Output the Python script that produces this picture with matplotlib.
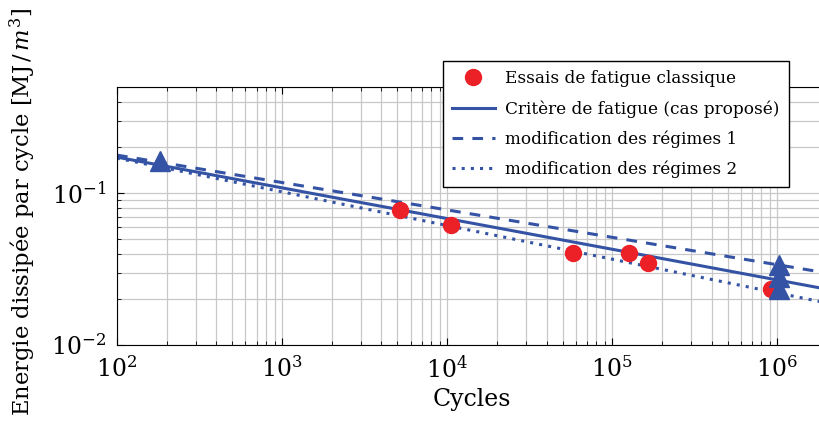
import numpy as np
import matplotlib
matplotlib.use('Agg')
import matplotlib.pyplot as plt

# essais de fatigue classique (cycles, énergie MJ/m3)
essais_N = [5.2e3, 1.06e4, 5.8e4, 1.27e5, 1.65e5, 9.1e5]
essais_E = [0.0773, 0.0617, 0.0403, 0.0403, 0.0347, 0.0234]

# points triangulaires (régimes)
tri_N = [182, 1.02e6, 1.02e6, 1.02e6]
tri_E = [0.162, 0.0335, 0.028, 0.0233]

# droites de fatigue (extrémités)
ligne_N = [1e2, 2e6]
critere_E = [0.1726, 0.0233]
regime1_E = [0.178, 0.0298]
regime2_E = [0.170, 0.0189]

bleu = '#3453a4'
rouge = '#ec2027'

plt.rcParams['font.family'] = 'DejaVu Serif'
plt.rcParams['mathtext.fontset'] = 'dejavuserif'

fig = plt.figure(figsize=(8.2, 4.25), dpi=100)
ax = fig.add_axes([117/820, 1 - 345/425, 710/820, 258/425])

ax.plot(essais_N, essais_E, 'o', color=rouge, ms=11.5, zorder=4,
        label='Essais de fatigue classique')
ax.plot(ligne_N, critere_E, '-', color=bleu, lw=2.2,
        label='Critère de fatigue (cas proposé)')
ax.plot(ligne_N, regime1_E, '--', color=bleu, lw=2.2, dashes=(3.5, 3),
        label='modification des régimes 1')
ax.plot(ligne_N, regime2_E, ':', color=bleu, lw=2.2, dashes=(1, 2),
        label='modification des régimes 2')
ax.plot(tri_N, tri_E, '^', color=bleu, ms=15, zorder=5, linestyle='none')

ax.set_xscale('log')
ax.set_yscale('log')
ax.set_xlim(1e2, 2e6)
ax.set_ylim(1e-2, 0.5)

ax.grid(True, which='both', color='#c8c8c8', lw=0.9)
ax.set_axisbelow(True)
ax.tick_params(which='both', direction='in', top=True, right=True, labelsize=17, pad=8)
ax.tick_params(which='major', length=5)
ax.tick_params(which='minor', length=3)

ax.set_xlabel('Cycles', fontsize=17)
ax.set_ylabel(r'Energie dissipée par cycle [MJ$\,/\,m^3$]', fontsize=16.3)
ax.yaxis.set_label_coords(-0.111, 0.515)

leg = fig.legend(loc='upper left', bbox_to_anchor=(443/820, 1 - 61/425),
                 fontsize=12.2, frameon=True, fancybox=False, edgecolor='black',
                 framealpha=1, borderaxespad=0, handlelength=2.5,
                 handletextpad=0.6, labelspacing=0.75, borderpad=0.55)
leg.get_frame().set_linewidth(1.0)

fig.savefig('out.png', dpi=100)
